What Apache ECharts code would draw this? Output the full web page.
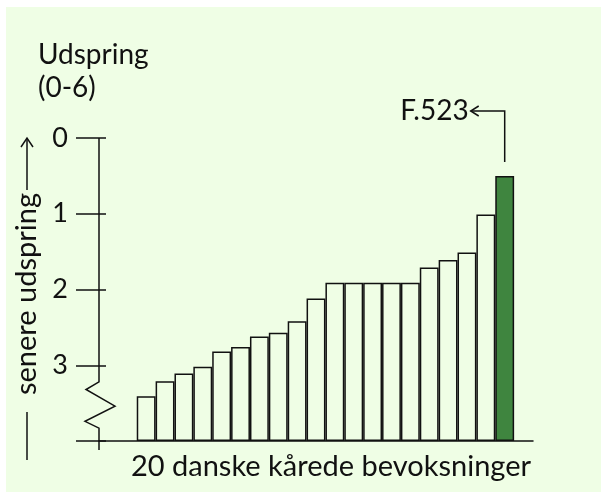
<!DOCTYPE html>
<html>
<head>
<meta charset="utf-8">
<script src="https://cdn.jsdelivr.net/npm/echarts@6/dist/echarts.min.js"></script>
<style>
  html, body { margin: 0; padding: 0; background: #fff; }
  #panel { position: absolute; left: 6px; top: 7px; width: 595px; height: 485px; background: #effee5; }
  #chart { position: absolute; left: 0; top: 0; width: 603px; height: 498px; }
</style>
</head>
<body>
<div id="panel"></div>
<div id="chart"></div>
<script>
// 20 kaarede bevoksninger, sorteret efter udspring (0 = tidligst)
var bevoksninger = ['1', '2', '3', '4', '5', '6', '7', '8', '9', '10',
                    '11', '12', '13', '14', '15', '16', '17', '18', '19', 'F.523'];
var udspring = [3.41, 3.21, 3.11, 3.02, 2.82, 2.76, 2.62, 2.57, 2.42, 2.12,
                1.91, 1.91, 1.91, 1.91, 1.91, 1.71, 1.61, 1.51, 1.01, 0.50];
var fremhaevet = 'F.523';
var yTicks = [0, 1, 2, 3];
var yMax = 4;            // bunden af diagrammet (skala brudt)
var brud = [3.22, 3.32, 3.54, 3.74, 3.83];   // hvor aksen er brudt
var tomFoer = 2, tomEfter = 1;

var FONT = 'Lato';
var INK = '#111';
var GREEN = '#3f853f';
var BG = '#effee5';

var xData = [];
for (var i = 0; i < tomFoer; i++) xData.push('');
xData = xData.concat(bevoksninger);
for (var i = 0; i < tomEfter; i++) xData.push('');

function pad(arr, fill) {
  var out = [];
  for (var i = 0; i < tomFoer; i++) out.push(fill);
  out = out.concat(arr);
  for (var i = 0; i < tomEfter; i++) out.push(fill);
  return out;
}

var baseData = pad(udspring, '-');
var barData = pad(udspring.map(function (v, i) {
  var item = { value: yMax - v };
  if (bevoksninger[i] === fremhaevet) {
    item.itemStyle = { color: GREEN };
  }
  return item;
}), '-');

var chart = echarts.init(document.getElementById('chart'));

var yAxisBase = {
  type: 'value',
  inverse: true,
  min: 0,
  max: yMax,
  interval: 1,
  splitLine: { show: false },
  axisLine: { show: false }
};

var option = {
  backgroundColor: 'transparent',
  animation: false,
  grid: { left: 99, right: 70, top: 138, bottom: 57 },
  xAxis: {
    type: 'category',
    position: 'bottom',
    data: xData,
    axisLine: { show: true, onZero: false, lineStyle: { color: INK, width: 1.5 } },
    axisTick: { show: false },
    axisLabel: { show: false },
    name: '20 danske kårede bevoksninger',
    nameLocation: 'middle',
    nameGap: 11,
    nameTextStyle: {
      fontFamily: FONT, fontSize: 29, color: INK,
      verticalAlign: 'top', padding: [0, 0, 0, 30]
    }
  },
  yAxis: [
    Object.assign({}, yAxisBase, {
      axisTick: { show: true, length: 23, lineStyle: { color: INK, width: 1.5 } },
      axisLabel: {
        margin: 31,
        fontFamily: FONT, fontSize: 27, color: INK,
        formatter: function (v) { return yTicks.indexOf(v) >= 0 ? String(v) : ''; }
      }
    }),
    Object.assign({}, yAxisBase, {
      position: 'left',
      axisTick: { show: true, inside: true, length: 7, lineStyle: { color: INK, width: 1.5 } },
      axisLabel: { show: false }
    })
  ],
  series: [
    {
      type: 'bar',
      stack: 'u',
      data: baseData,
      itemStyle: { color: 'transparent' },
      silent: true
    },
    {
      type: 'bar',
      stack: 'u',
      data: barData,
      barCategoryGap: '0%',
      itemStyle: { color: BG, borderColor: INK, borderWidth: 1.5 }
    }
  ]
};

chart.setOption(option);

// aksen med brud, pil til F.523 og tekster
var gridLeft = option.grid.left;
function py(v) { return chart.convertToPixel({ yAxisIndex: 0 }, v); }

var axisPts = [
  [gridLeft, py(0)],
  [gridLeft, py(brud[0])],
  [gridLeft - 13, py(brud[1])],
  [gridLeft + 16, py(brud[2])],
  [gridLeft - 14, py(brud[3])],
  [gridLeft, py(brud[4])],
  [gridLeft, py(yMax) + 9]
];

var hi = bevoksninger.indexOf(fremhaevet);
var hx = chart.convertToPixel({ xAxisIndex: 0 }, hi + tomFoer);
var hTop = py(udspring[hi]);
var arrowY = py(0) - 27;

chart.setOption({
  graphic: [
    {
      type: 'polyline', z: 10,
      shape: { points: axisPts },
      style: { stroke: INK, lineWidth: 1.5, fill: null }
    },
    {
      type: 'polyline', z: 10,
      shape: { points: [[hx, hTop - 14], [hx, arrowY], [hx - 34, arrowY]] },
      style: { stroke: INK, lineWidth: 1.5, fill: null }
    },
    {
      type: 'polyline', z: 10,
      shape: { points: [[hx - 26, arrowY - 5], [hx - 34, arrowY], [hx - 26, arrowY + 5]] },
      style: { stroke: INK, lineWidth: 1.5, fill: null }
    },
    {
      type: 'text', z: 10,
      x: hx - 36, y: arrowY,
      style: { text: fremhaevet, fontFamily: FONT, fontSize: 28, fill: INK, align: 'right', verticalAlign: 'middle' }
    },
    {
      type: 'text', z: 10,
      x: 38, y: 38,
      style: { text: 'Udspring\n(0-6)', fontFamily: FONT, fontSize: 28, lineHeight: 33, fill: INK }
    },
    {
      type: 'text', z: 10,
      x: 27, y: 294, rotation: Math.PI / 2,
      style: { text: 'senere udspring', fontFamily: FONT, fontSize: 29, fill: INK, align: 'center', verticalAlign: 'middle' }
    },
    {
      type: 'line', z: 10,
      shape: { x1: 27, y1: 412, x2: 27, y2: 460 },
      style: { stroke: INK, lineWidth: 1.5 }
    },
    {
      type: 'line', z: 10,
      shape: { x1: 27, y1: 190, x2: 27, y2: 138 },
      style: { stroke: INK, lineWidth: 1.5 }
    },
    {
      type: 'polyline', z: 10,
      shape: { points: [[21, 147], [27, 138], [33, 147]] },
      style: { stroke: INK, lineWidth: 1.5, fill: null }
    }
  ]
});
</script>
</body>
</html>
